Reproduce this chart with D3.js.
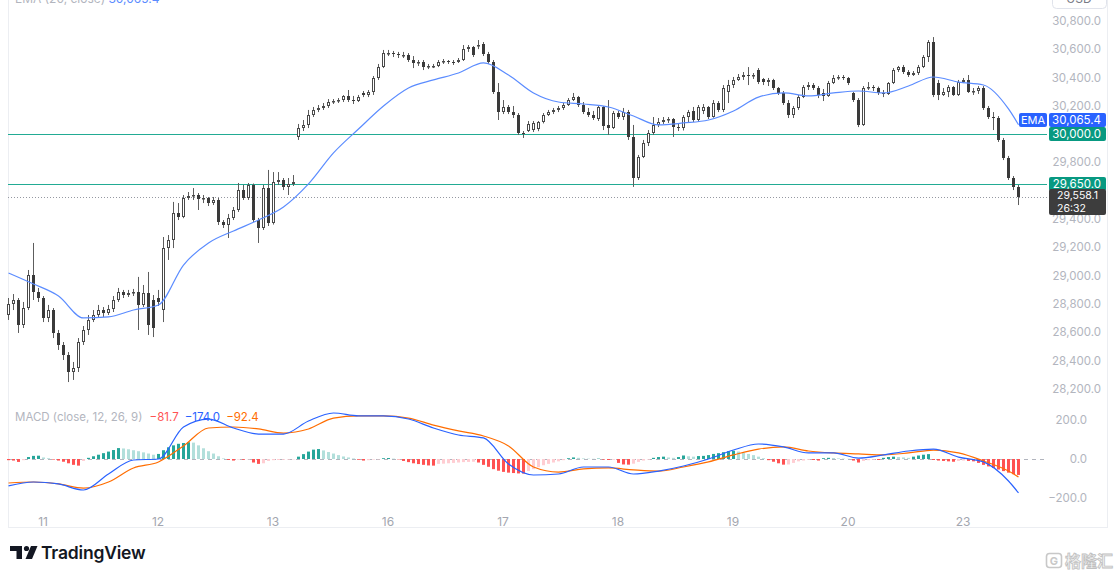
<!DOCTYPE html>
<html><head><meta charset="utf-8">
<script src="https://cdn.jsdelivr.net/npm/d3@7"></script>
<style>html,body{margin:0;padding:0;background:#fff;overflow:hidden}svg{display:block;font-family:Inter,"Noto Sans",sans-serif}</style>
</head><body><svg id="c" width="1119" height="579"></svg>
<script>
// ---------- DATA ----------
const opens=[28721,28799,28827,28650,28770,29004,28883,28841,28700,28756,28594,28509,28438,28318,28346,28530,28615,28686,28721,28756,
28735,28763,28827,28883,28862,28876,28883,28792,28876,28827,28841,28756,29194,29251,29442,29414,29548,29562,29569,29541,
29548,29512,29534,29378,29357,29407,29463,29604,29548,29640,29392,29336,29618,29371,29661,29675,29626,29647,29979,30042,
30064,30134,30170,30184,30198,30226,30233,30240,30269,30240,30233,30290,30276,30297,30396,30473,30572,30575,30565,30558,
30560,30523,30502,30509,30473,30481,30484,30509,30516,30509,30506,30523,30600,30615,30622,30636,30565,30509,30297,30155,
30191,30155,30134,30007,30020,30030,30035,30085,30134,30155,30170,30184,30205,30240,30261,30205,30155,30134,30105,30191,
30064,30042,30148,30120,30155,29979,29689,29838,29937,30007,30064,30085,30099,30106,30049,30042,30120,30165,30099,30160,
30190,30120,30219,30170,30300,30346,30382,30403,30417,30410,30452,30390,30365,30382,30325,30290,30219,30134,30184,30261,
30332,30346,30325,30290,30270,30360,30396,30400,30396,30290,30240,30064,30325,30332,30328,30290,30283,30360,30452,30473,
30438,30417,30431,30473,30544,30650,30360,30276,30297,30332,30276,30367,30382,30297,30304,30325,30184,30120,30113,29958,
29830,29689,29626];
const highs=[28841,28869,28841,28813,29039,29230,28912,28855,28792,28770,28615,28530,28459,28389,28558,28643,28721,28756,28792,28777,
28792,28855,28912,28898,28898,28905,28990,28933,29025,28862,28898,29272,29286,29520,29512,29569,29590,29618,29583,29569,
29555,29555,29548,29392,29435,29484,29654,29640,29654,29650,29407,29640,29746,29731,29731,29689,29689,29710,30071,30099,
30170,30191,30205,30219,30247,30247,30254,30275,30311,30269,30276,30304,30311,30410,30495,30594,30594,30587,30580,30580,
30572,30551,30523,30523,30495,30495,30523,30530,30523,30523,30537,30629,30629,30622,30664,30650,30580,30523,30360,30240,
30205,30198,30148,30021,30092,30092,30092,30148,30170,30184,30198,30219,30254,30290,30269,30226,30184,30163,30205,30198,
30240,30163,30163,30184,30170,30064,29852,29958,30028,30120,30113,30120,30120,30113,30071,30134,30170,30191,30205,30212,
30198,30240,30233,30346,30382,30403,30424,30438,30473,30431,30466,30396,30396,30390,30332,30304,30240,30198,30276,30346,
30367,30360,30339,30318,30375,30417,30417,30417,30403,30297,30254,30339,30367,30346,30335,30311,30367,30466,30481,30488,
30452,30445,30488,30558,30664,30685,30382,30325,30346,30339,30382,30396,30417,30325,30339,30339,30198,30155,30127,29972,
29845,29703,29640];
const lows=[28686,28756,28594,28629,28756,28827,28813,28671,28671,28558,28474,28403,28247,28262,28318,28509,28580,28671,28700,28707,
28721,28742,28813,28841,28848,28855,28615,28777,28580,28565,28785,28671,29110,29194,29392,29405,29534,29534,29463,29512,
29491,29498,29357,29336,29265,29392,29449,29534,29534,29378,29230,29322,29350,29360,29640,29604,29569,29633,29958,30021,
30042,30120,30155,30170,30184,30212,30219,30226,30226,30212,30226,30261,30261,30276,30382,30466,30551,30544,30537,30537,
30509,30466,30481,30452,30459,30466,30473,30495,30495,30488,30502,30516,30580,30544,30600,30551,30495,30283,30099,30141,
30141,30113,29993,29972,30014,30014,30020,30075,30127,30141,30155,30170,30198,30233,30191,30141,30120,30099,30092,30028,
29993,30035,30106,30099,29958,29626,29675,29830,29915,29993,30049,30071,30078,29979,30021,30025,30085,30085,30085,30141,
30106,30115,30155,30155,30219,30325,30375,30382,30346,30389,30353,30346,30339,30311,30276,30205,30113,30113,30170,30254,
30311,30311,30254,30233,30262,30353,30382,30382,30346,30226,30049,30057,30311,30304,30276,30261,30276,30353,30438,30424,
30403,30410,30417,30466,30509,30261,30240,30269,30261,30269,30269,30360,30290,30276,30283,30170,30106,30028,29944,29816,
29675,29604,29498];
const closes=[28799,28827,28650,28770,29004,28883,28841,28700,28756,28594,28509,28438,28318,28346,28530,28615,28686,28721,28756,28735,
28763,28827,28883,28862,28876,28883,28792,28876,28650,28629,28813,29194,29251,29442,29414,29548,29562,29569,29541,29548,
29512,29534,29378,29357,29407,29463,29604,29548,29640,29392,29336,29618,29371,29661,29675,29626,29647,29661,30042,30064,
30134,30170,30184,30198,30226,30233,30240,30269,30240,30233,30261,30276,30297,30396,30473,30572,30575,30565,30558,30560,
30523,30502,30509,30473,30481,30484,30509,30516,30509,30506,30523,30600,30615,30558,30629,30565,30509,30297,30155,30191,
30155,30134,30007,30000,30070,30080,30085,30134,30155,30170,30184,30205,30240,30261,30205,30155,30134,30113,30191,30057,
30042,30148,30120,30155,29979,29689,29838,29937,30007,30064,30085,30099,30106,30049,30042,30120,30155,30099,30191,30190,
30120,30219,30170,30325,30346,30382,30403,30417,30410,30415,30367,30365,30382,30325,30290,30219,30134,30184,30261,30332,
30346,30325,30276,30270,30360,30396,30400,30396,30360,30240,30064,30325,30332,30328,30290,30283,30360,30452,30473,30438,
30417,30431,30473,30544,30650,30276,30276,30297,30332,30276,30367,30382,30297,30304,30325,30184,30120,30113,29958,29830,
29689,29626,29558.1];
const lineIdx=[0,5,10,15,20,25,30,35,40,45,50,55,60,65,70,75,80,85,90,95,100,105,110,115,120,125,130,135,140,145,150,155,160,165,170,175,180,185,190,195,200,202];
const emaVals=[29018,28940,28855,28700,28707,28756,28792,29074,29230,29315,29392,29484,29647,29866,30035,30198,30325,30382,30431,30502,30417,30290,30226,30212,30191,30127,30064,30078,30099,30163,30261,30290,30269,30290,30304,30290,30339,30403,30367,30346,30177,30065.4];
const macdVals=[-138,-118,-128,-159,-77,-5,0,164,205,159,128,128,195,236,221,221,205,159,123,108,-26,-82,-77,-41,-41,-77,-62,-36,0,46,77,62,31,31,5,21,41,51,10,-15,-113,-174];
const signalVals=[-123,-118,-128,-149,-118,-46,-15,67,159,164,154,133,154,210,221,221,210,174,144,118,67,-41,-67,-51,-46,-56,-62,-41,-15,21,51,62,41,31,26,21,31,46,31,-10,-62,-92.4];
const histVals=[-6,-8,-15,-6,10,16,17,8,4,-3,
-8,-14,-22,-30,-34,-10,6,14,22,30,
38,46,56,54,50,45,40,34,28,22,
26,45,60,70,78,82,86,84,70,55,
40,28,14,3,-5,-8,-3,-4,-2,-18,
-25,-22,-10,-6,-5,-4,-3,-2,12,25,
38,48,51,44,36,28,20,13,8,3,
-4,-8,-6,-3,-2,4,5,2,-2,-10,
-16,-22,-26,-30,-33,-34,-25,-24,-22,-20,
-18,-16,-15,-14,-18,-30,-40,-52,-60,-66,
-70,-72,-74,-75,-62,-52,-42,-32,-25,-18,
-12,-6,4,8,6,3,2,1,2,-3,
-5,-4,-20,-28,-29,-24,-15,-8,-3,6,
10,12,8,6,10,18,14,12,15,16,
20,26,30,35,40,42,38,32,26,20,
12,4,-6,-14,-22,-29,-28,-20,-12,-8,
-4,-5,-8,4,6,5,3,2,1,-8,
-18,-10,-6,-4,-5,6,10,12,10,8,
6,12,18,22,25,-5,-8,-10,-12,-14,
-10,-8,-10,-12,-20,-30,-38,-46,-54,-62,
-70,-78,-81.7];
const dayTickIdx=[7,30,53,76,99,122,145,168,191];
const dayLabels=["11","12","13","16","17","18","19","20","23"];
const priceTicks=[28200,28400,28600,28800,29000,29200,29400,29800,30200,30400,30600,30800];
const macdTicks=[-200,0,200];
const levelLines=[30000,29650];
const lastPrice=29558.1, lastEma=30065.4, countdown="26:32";
const legendMacd=[-81.7,-174.0,-92.4];

// ---------- CHART ----------
const svg=d3.select("#c");
const N=closes.length;
const x=d3.scaleBand().domain(d3.range(N)).range([4.75,4.75+5*(N+0.3)]).paddingInner(0.3).paddingOuter(0.3);
const cx=i=>Math.round(x(i)+x.bandwidth()/2);
const yP=d3.scaleLinear().domain([28200,30800]).range([388.7,20.8]);
const yM=d3.scaleLinear().domain([-200,200]).range([498,420]);
const fmt=d3.format(",.1f");
const paneR=1047;

// borders
svg.append("line").attr("x1",8.5).attr("x2",8.5).attr("y1",0).attr("y2",527).attr("stroke","#eceef2");
svg.append("line").attr("x1",1107.5).attr("x2",1107.5).attr("y1",0).attr("y2",527).attr("stroke","#eceef2");
svg.append("line").attr("x1",8).attr("x2",1108).attr("y1",527.5).attr("y2",527.5).attr("stroke","#eceef2");

// top legend (cut off at the top edge, as in the source)
const lg=svg.append("text").attr("x",15).attr("y",3).attr("font-size",12);
lg.append("tspan").attr("fill","#b2b5be").text("EMA (20, close) ");
lg.append("tspan").attr("fill","#5b8cff").text(fmt(lastEma));
svg.append("rect").attr("x",1052.5).attr("y",-12.5).attr("width",54).attr("height",21).attr("rx",4).attr("fill","#fff").attr("stroke","#e0e3eb");
svg.append("text").attr("x",1079).attr("y",3).attr("text-anchor","middle").attr("font-size",12).attr("fill","#787b86").text("USD");

// level lines
levelLines.forEach(v=>{
  svg.append("line").attr("x1",8).attr("x2",paneR).attr("y1",Math.round(yP(v))+0.5).attr("y2",Math.round(yP(v))+0.5)
    .attr("stroke","#22ab94").attr("stroke-width",1);
});
svg.append("line").attr("x1",8).attr("x2",paneR).attr("y1",Math.round(yP(lastPrice))+0.5).attr("y2",Math.round(yP(lastPrice))+0.5)
  .attr("stroke","#9598a1").attr("stroke-dasharray","1,2");

// candles
const cg=svg.append("g");
const idx=d3.range(N);
cg.selectAll("rect.w").data(idx).join("rect").attr("class","w")
  .attr("x",i=>cx(i)).attr("width",1)
  .attr("y",i=>yP(highs[i])).attr("height",i=>Math.max(1,yP(lows[i])-yP(highs[i])))
  .attr("fill","#5d5d5d");
cg.selectAll("rect.b").data(idx).join("rect").attr("class","b")
  .each(function(i){
    const up=closes[i]>=opens[i];
    const top=Math.round(yP(Math.max(opens[i],closes[i])));
    const bot=Math.round(yP(Math.min(opens[i],closes[i])));
    const h=Math.max(1,bot-top);
    const s=d3.select(this);
    if(up){
      s.attr("x",cx(i)-0.5).attr("width",2).attr("y",top+0.5).attr("height",Math.max(0.5,h-1))
       .attr("fill","#fff").attr("stroke","#4a4a4a").attr("stroke-width",1);
    } else {
      s.attr("x",cx(i)-1).attr("width",3).attr("y",top).attr("height",h).attr("fill","#3a3a3a");
    }
  });

// EMA line
svg.append("path").datum(lineIdx.map((k,j)=>[k,emaVals[j]]))
  .attr("d",d3.line().x(d=>cx(d[0])+0.5).y(d=>yP(d[1])).curve(d3.curveMonotoneX))
  .attr("fill","none").attr("stroke","#5b8cff").attr("stroke-width",1.2);

// price axis
const pa=svg.append("g").attr("transform",`translate(${paneR},0)`)
  .call(d3.axisRight(yP).tickValues(priceTicks).tickFormat(fmt).tickSize(0));
pa.select(".domain").remove();
pa.selectAll("text").attr("x",54).attr("text-anchor","end").attr("font-size",11.5).attr("fill","#b2b5be").attr("font-family","Inter,sans-serif");

// price label boxes
function box(y0,h,color,lines){
  svg.append("rect").attr("x",1049).attr("y",y0).attr("width",57).attr("height",h).attr("rx",2).attr("fill",color);
  lines.forEach((t,k)=>svg.append("text").attr("x",1101).attr("y",y0+10.5+k*13).attr("text-anchor","end")
    .attr("font-size",11.5).attr("fill","#fff").text(t));
}
const y30=Math.round(yP(30000))-7;
const yEbox=Math.min(yP(lastEma)-7,y30-14);
svg.append("rect").attr("x",1019).attr("y",yEbox).attr("width",28).attr("height",14).attr("rx",2).attr("fill","#2962ff");
svg.append("text").attr("x",1033).attr("y",yEbox+10.5).attr("text-anchor","middle").attr("font-size",11).attr("fill","#fff").text("EMA");
box(yEbox,14,"#2962ff",[fmt(lastEma)]);
box(y30,14,"#089981",[fmt(30000)]);
box(Math.round(yP(29650))-7,14,"#089981",[fmt(29650)]);
const yL=Math.round(yP(lastPrice))-8;
svg.append("rect").attr("x",1049).attr("y",yL).attr("width",57).attr("height",26).attr("rx",2).attr("fill","#3d3d3d");
svg.append("text").attr("x",1057).attr("y",yL+10).attr("font-size",10.5).attr("fill","#fff").text(fmt(lastPrice));
svg.append("text").attr("x",1057).attr("y",yL+23).attr("font-size",10.5).attr("fill","#fff").text(countdown);

// MACD pane
svg.append("line").attr("x1",8).attr("x2",paneR).attr("y1",Math.round(yM(0))+0.5).attr("y2",Math.round(yM(0))+0.5)
  .attr("stroke","#b2b5be").attr("stroke-dasharray","4,4");
const hcol=i=>{const v=histVals[i],p=i>0?histVals[i-1]:v;
  if(v>=0) return v>=p?"#26a69a":"#b2dfdb"; return v<=p?"#ff5252":"#ffcdd2";};
svg.append("g").selectAll("rect").data(idx).join("rect")
  .attr("x",i=>cx(i)-1).attr("width",3)
  .attr("y",i=>Math.min(yM(0),yM(histVals[i]))).attr("height",i=>Math.abs(yM(histVals[i])-yM(0)))
  .attr("fill",hcol);
const ml=d3.line().x(d=>cx(d[0])+0.5).y(d=>yM(d[1])).curve(d3.curveMonotoneX);
svg.append("path").datum(lineIdx.map((k,j)=>[k,signalVals[j]])).attr("d",ml).attr("fill","none").attr("stroke","#ff6d00").attr("stroke-width",1.2);
svg.append("path").datum(lineIdx.map((k,j)=>[k,macdVals[j]])).attr("d",ml).attr("fill","none").attr("stroke","#2962ff").attr("stroke-width",1.2);
const ma=svg.append("g").attr("transform",`translate(${paneR},0)`)
  .call(d3.axisRight(yM).tickValues(macdTicks).tickFormat(d3.format(".1f")).tickSize(0));
ma.select(".domain").remove();
ma.selectAll("text").attr("x",40).attr("text-anchor","end").attr("font-size",11.5).attr("fill","#b2b5be").attr("font-family","Inter,sans-serif");
const ml2=svg.append("text").attr("x",15).attr("y",421).attr("font-size",11.5);
ml2.append("tspan").attr("fill","#b2b5be").text("MACD (close, 12, 26, 9) ");
const nf=d3.format(".1f");
ml2.append("tspan").attr("fill","#ff5252").attr("dx",4).text(nf(legendMacd[0]));
ml2.append("tspan").attr("fill","#2962ff").attr("dx",6).text(nf(legendMacd[1]));
ml2.append("tspan").attr("fill","#ff6d00").attr("dx",6).text(nf(legendMacd[2]));

// time axis
const ta=svg.append("g").attr("transform","translate(0,505)")
  .call(d3.axisBottom(x).tickValues(dayTickIdx).tickFormat((d,k)=>dayLabels[k]).tickSize(0));
ta.select(".domain").remove();
ta.selectAll("text").attr("y",12).attr("font-size",12).attr("fill","#a3a6af").attr("font-family","Inter,sans-serif");

// TradingView logo
const lgG=svg.append("g").attr("fill","#131722");
lgG.append("path").attr("d","M10,546 H22 V559 H16.5 V551 H10 Z");
lgG.append("circle").attr("cx",26.5).attr("cy",548.5).attr("r",2.6);
lgG.append("path").attr("d","M31,546 H37.5 L32,559 H25.5 Z");
svg.append("text").attr("x",41).attr("y",559).attr("font-size",17.5).attr("font-weight",600).attr("fill","#131722").attr("letter-spacing","-0.2").text("TradingView");

// watermark
svg.append("rect").attr("x",1046.5).attr("y",553.5).attr("width",15).attr("height",14).attr("rx",3).attr("fill","none").attr("stroke","#c8c8c8").attr("stroke-width",1.6);
svg.append("text").attr("x",1054).attr("y",565).attr("text-anchor","middle").attr("font-size",11).attr("font-weight",700).attr("fill","#c8c8c8").text("G");
svg.append("text").attr("x",1065).attr("y",567).attr("font-size",16).attr("font-family","'Noto Sans CJK SC',sans-serif").attr("font-weight",700)
  .attr("fill","#f2f2f2").attr("stroke","#c0c0c0").attr("stroke-width",0.8).text("格隆汇");
</script></body></html>
